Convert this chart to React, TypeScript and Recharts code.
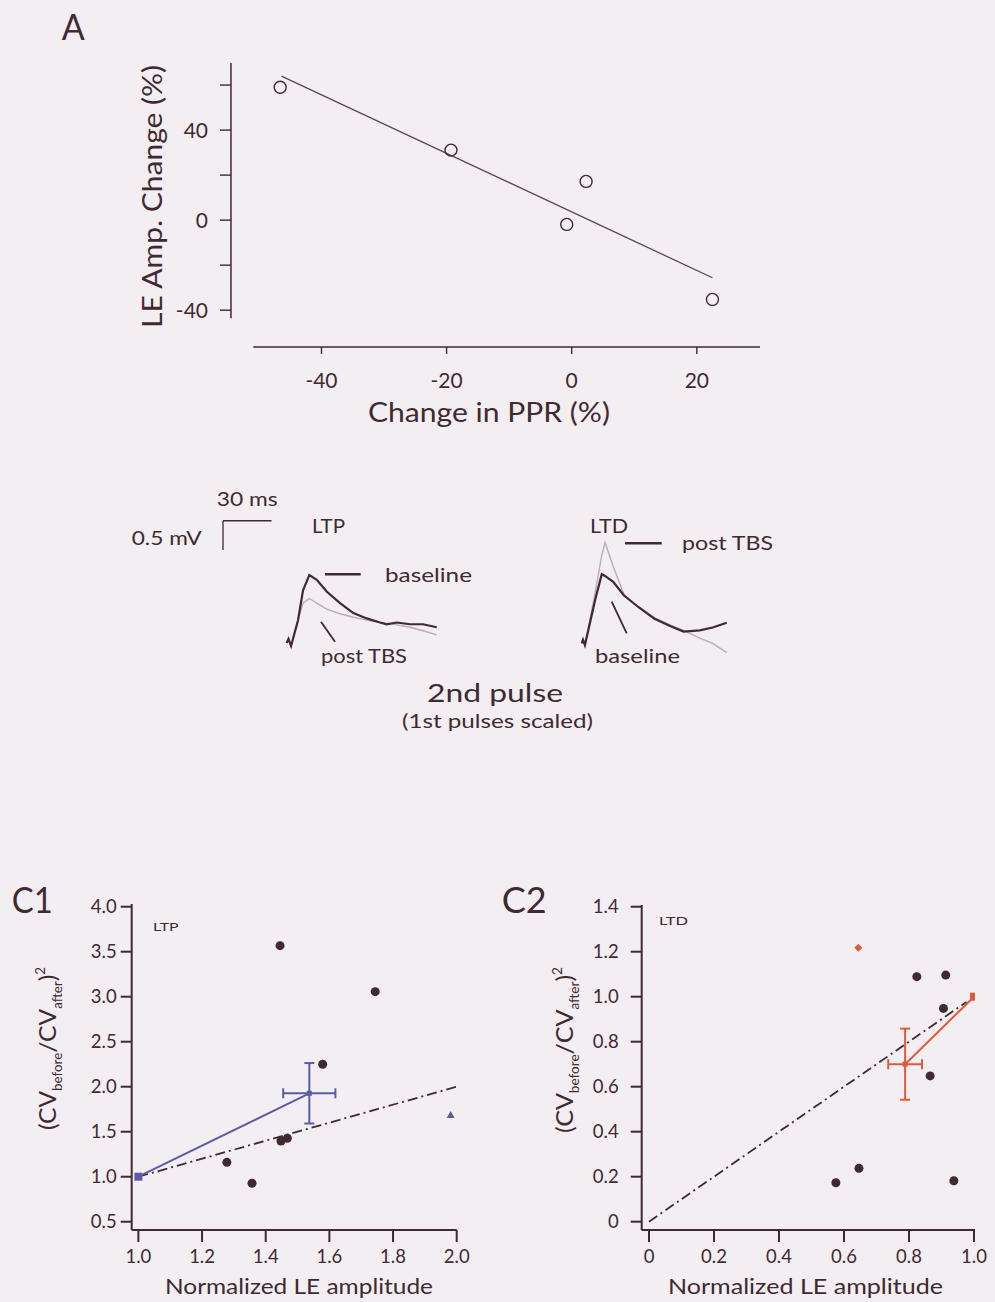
import React from 'react'
import { ScatterChart, Scatter, XAxis, YAxis, ReferenceLine, ErrorBar } from 'recharts'

const INK = '#3e2a30'
const BG = '#f3eef2'
const FONT = 'Lato, "Open Sans", sans-serif'
const BLUE = '#5b5ca6'
const RED = '#e2583c'
const TRACE_LIGHT = '#b9adbb'

// --- A: LE amplitude change vs change in PPR
const pprChange = [-46.6, -19.3, 2.3, -0.8, 22.5]
const leChange = [59.0, 31.1, 17.2, -1.9, -35.2]
const fitPpr = [-46.4, 22.5]
const fitLe = [64.0, -25.6]
const aXTicks = [-40, -20, 0, 20]
const aYTicks = [-40, -20, 0, 20, 40, 60]

// --- B: second pulse traces (ms, mV)
const ltpTime = [0, 1.1, 2.7, 7.0, 10.1, 14.0, 18.6, 24.7, 33.0, 41.2, 49.5, 57.7, 61.8, 68.0, 76.2, 84.3, 92.8]
const ltpBaseline = [0, 0.07, -0.05, 0.39, 0.9, 1.16, 1.08, 0.88, 0.68, 0.51, 0.42, 0.35, 0.32, 0.35, 0.32, 0.32, 0.27]
const ltpPostTbs = [0, 0.07, -0.05, 0.39, 0.68, 0.76, 0.68, 0.58, 0.5, 0.44, 0.39, 0.35, 0.34, 0.31, 0.27, 0.21, 0.14]
const ltdTime = [0, 0.8, 2.0, 8.5, 12.4, 14.4, 19.5, 26, 35, 45, 55, 63, 73, 81, 89.7]
const ltdBaseline = [0, 0.06, -0.03, 0.76, 1.18, 1.15, 1.05, 0.82, 0.62, 0.42, 0.29, 0.2, 0.22, 0.27, 0.35]
const ltdPostTbs = [0, 0.06, -0.03, 0.9, 1.5, 1.72, 1.31, 0.84, 0.61, 0.44, 0.31, 0.22, 0.09, 0.0, -0.16]
const scaleBarMs = 30
const scaleBarMv = 0.5

// --- C1: LTP
const c1Amp = [1.445, 1.744, 1.579, 1.448, 1.468, 1.278, 1.357]
const c1Cv = [3.567, 3.056, 2.249, 1.397, 1.427, 1.16, 0.927]
const c1Mean = [{ x: 1.537, y: 1.927, ex: 0.082, ey: 0.336 }]
const c1Ref = [{ x: 1, y: 1 }]
const c1Outlier = [{ x: 1.981, y: 1.686 }]
const c1Unity = [1, 2]
const c1XTicks = [1.0, 1.2, 1.4, 1.6, 1.8, 2.0]
const c1YTicks = [0.5, 1.0, 1.5, 2.0, 2.5, 3.0, 3.5, 4.0]

// --- C2: LTD
const c2Amp = [0.824, 0.913, 0.906, 0.865, 0.646, 0.575, 0.938]
const c2Cv = [1.089, 1.096, 0.948, 0.648, 0.237, 0.173, 0.182]
const c2Mean = [{ x: 0.788, y: 0.7, ex: 0.052, ey: 0.158 }]
const c2Ref = [{ x: 1, y: 1 }]
const c2Outlier = [{ x: 0.644, y: 1.218 }]
const c2Unity = [0, 0.977]
const c2XTicks = [0, 0.2, 0.4, 0.6, 0.8, 1.0]
const c2YTicks = [0, 0.2, 0.4, 0.6, 0.8, 1.0, 1.2, 1.4]

const pts = (xs: number[], ys: number[]) => xs.map((x, i) => ({ x, y: ys[i] }))

const noShape = () => <g />
const openCircle = (p: any) => <circle cx={p.cx} cy={p.cy} r={6} fill="none" stroke={INK} strokeWidth={1.4} />
const dot = (p: any) => <circle cx={p.cx} cy={p.cy} r={4.5} fill={INK} />
const square = (color: string, s: number) => (p: any) =>
    <rect x={p.cx - s / 2} y={p.cy - s / 2} width={s} height={s} fill={color} />
const triangle = (p: any) =>
    <path d={`M${p.cx},${p.cy - 4} L${p.cx + 4},${p.cy + 3} L${p.cx - 4},${p.cy + 3} Z`} fill={BLUE} />
const diamond = (p: any) =>
    <path d={`M${p.cx},${p.cy - 4} L${p.cx + 4},${p.cy} L${p.cx},${p.cy + 4} L${p.cx - 4},${p.cy} Z`} fill={RED} />

const fmt1 = (v: number) => (v === 0 ? '0' : v.toFixed(1))

// axis geometry of panel A (offset axes)
const A_XDOM: [number, number] = [-50.9, 30.1]
const A_YDOM: [number, number] = [-43.6, 69.8]
const A_YLINE_X = -54.47
const A_XLINE_Y = -56.35

function PanelA() {
    return (
        <ScatterChart width={800} height={410} margin={{ top: 63, right: 40, bottom: 0, left: 0 }}>
            <XAxis type="number" dataKey="x" domain={A_XDOM} padding={{ left: 22.3, right: 0 }}
                ticks={aXTicks} interval={0} allowDataOverflow axisLine={false}
                tickSize={7} tickMargin={19} height={63}
                tickLine={{ stroke: INK, strokeWidth: 1.4 }}
                tick={{ fontSize: 21, fill: INK, fontFamily: FONT }} />
            <YAxis type="number" dataKey="y" domain={A_YDOM} padding={{ top: 0, bottom: 28.7 }}
                ticks={aYTicks} interval={0} allowDataOverflow axisLine={false}
                tickSize={11} tickMargin={12} width={231}
                tickFormatter={(v: number) => (v % 40 === 0 ? String(v) : '')}
                tickLine={{ stroke: INK, strokeWidth: 1.4 }}
                tick={{ fontSize: 21, fill: INK, fontFamily: FONT }} />
            <ReferenceLine ifOverflow="visible" stroke={INK} strokeWidth={1.5}
                segment={[{ x: A_YLINE_X, y: A_YDOM[1] }, { x: A_YLINE_X, y: A_YDOM[0] }]} />
            <ReferenceLine ifOverflow="visible" stroke={INK} strokeWidth={1.5}
                segment={[{ x: A_XDOM[0], y: A_XLINE_Y }, { x: A_XDOM[1], y: A_XLINE_Y }]} />
            <Scatter data={pts(fitPpr, fitLe)} line={{ stroke: '#5a474c', strokeWidth: 1.3 }}
                shape={noShape} isAnimationActive={false} />
            <Scatter data={pts(pprChange, leChange)} shape={openCircle} isAnimationActive={false} />
        </ScatterChart>
    )
}

function Trace({ time, base, post, xDom, yDom, scaleBar }: {
    time: number[]; base: number[]; post: number[]
    xDom: [number, number]; yDom: [number, number]; scaleBar?: { x: number; y: number }
}) {
    return (
        <ScatterChart width={260} height={200} margin={{ top: 0, right: 0, bottom: 0, left: 0 }}>
            <XAxis type="number" dataKey="x" domain={xDom} hide allowDataOverflow />
            <YAxis type="number" dataKey="y" domain={yDom} hide allowDataOverflow />
            {scaleBar && (
                <ReferenceLine ifOverflow="visible" stroke={INK} strokeWidth={1.3}
                    segment={[{ x: scaleBar.x, y: scaleBar.y }, { x: scaleBar.x + scaleBarMs, y: scaleBar.y }]} />
            )}
            {scaleBar && (
                <ReferenceLine ifOverflow="visible" stroke={INK} strokeWidth={1.3}
                    segment={[{ x: scaleBar.x, y: scaleBar.y }, { x: scaleBar.x, y: scaleBar.y - scaleBarMv }]} />
            )}
            <Scatter data={pts(time, post)} line={{ stroke: TRACE_LIGHT, strokeWidth: 1.4 }}
                shape={noShape} isAnimationActive={false} />
            <Scatter data={pts(time, base)} line={{ stroke: INK, strokeWidth: 2.2 }}
                shape={noShape} isAnimationActive={false} />
        </ScatterChart>
    )
}

function PanelC({ width, yWidth, right, top, xDom, yDom, xTicks, yTicks, amp, cv, unity, mean, ref, outlier, color, outlierShape }: any) {
    const axisStyle = { stroke: INK, strokeWidth: 2 }
    return (
        <ScatterChart width={width} height={420} margin={{ top, right, bottom: 0, left: 0 }}>
            <XAxis type="number" dataKey="x" domain={xDom} ticks={xTicks} interval={0} allowDataOverflow
                tickFormatter={fmt1} height={70} tickSize={12} tickMargin={8}
                axisLine={axisStyle} tickLine={axisStyle}
                tick={{ fontSize: 18.5, fill: INK, fontFamily: FONT }} />
            <YAxis type="number" dataKey="y" domain={yDom} ticks={yTicks} interval={0} allowDataOverflow
                tickFormatter={fmt1} width={yWidth} tickSize={11} tickMargin={yWidth > 140 ? 12 : 4}
                axisLine={axisStyle} tickLine={axisStyle}
                tick={{ fontSize: 18.5, fill: INK, fontFamily: FONT }} />
            <Scatter data={pts(unity, unity)} line={{ stroke: INK, strokeWidth: 1.8, strokeDasharray: '10 4 2 4' }}
                shape={noShape} isAnimationActive={false} />
            <Scatter data={pts(amp, cv)} shape={dot} isAnimationActive={false} />
            <Scatter data={[...ref, ...mean]} line={{ stroke: color, strokeWidth: 2 }}
                shape={noShape} isAnimationActive={false} />
            <Scatter data={mean} shape={square(color, 5)} isAnimationActive={false}>
                <ErrorBar dataKey="ex" direction="x" width={5} stroke={color} strokeWidth={2} />
                <ErrorBar dataKey="ey" direction="y" width={5} stroke={color} strokeWidth={2} />
            </Scatter>
            <Scatter data={ref} shape={square(color, 8)} isAnimationActive={false} />
            <Scatter data={outlier} shape={outlierShape} isAnimationActive={false} />
        </ScatterChart>
    )
}

// text stretched to the width it has in the scan
function T({ x, y, w, size, children, rotate }: { x: number; y: number; w: number; size: number; children: React.ReactNode; rotate?: boolean }) {
    return (
        <text transform={rotate ? `translate(${x},${y}) rotate(-90)` : undefined}
            x={rotate ? 0 : x} y={rotate ? 0 : y} fontSize={size}
            textLength={w} lengthAdjust="spacingAndGlyphs">{children}</text>
    )
}

function CvLabel({ x, y, w }: { x: number; y: number; w: number }) {
    return (
        <T x={x} y={y} w={w} size={24} rotate>
            <tspan>(CV</tspan>
            <tspan fontSize={13} dy={6}>before</tspan>
            <tspan dy={-6}>/CV</tspan>
            <tspan fontSize={13} dy={6}>after</tspan>
            <tspan dy={-6}>)</tspan>
            <tspan fontSize={13} dy={-11}>2</tspan>
        </T>
    )
}

export default function App() {
    const abs = (left: number, top: number) => ({ position: 'absolute' as const, left, top })
    return (
        <div style={{ position: 'absolute', left: 0, top: 0, width: 995, height: 1302, background: BG, overflow: 'hidden', fontFamily: FONT }}>
            <div style={abs(0, 0)}><PanelA /></div>
            <div style={abs(200, 480)}>
                <Trace time={ltpTime} base={ltpBaseline} post={ltpPostTbs}
                    xDom={[-53.62, 107.17]} yDom={[-0.631, 2.782]} scaleBar={{ x: -39.39, y: 2.087 }} />
            </div>
            <div style={abs(520, 480)}>
                <Trace time={ltdTime} base={ltdBaseline} post={ltdPostTbs}
                    xDom={[-38.16, 122.63]} yDom={[-0.626, 2.787]} />
            </div>
            <div style={abs(0, 880)}>
                <PanelC width={480} yWidth={131.7} right={23.3} top={24}
                    xDom={[0.979, 2.0]} yDom={[0.408, 4.03]} xTicks={c1XTicks} yTicks={c1YTicks}
                    amp={c1Amp} cv={c1Cv} unity={c1Unity} mean={c1Mean} ref={c1Ref}
                    outlier={c1Outlier} color={BLUE} outlierShape={triangle} />
            </div>
            <div style={abs(500, 880)}>
                <PanelC width={490} yWidth={141.7} right={15} top={25}
                    xDom={[-0.0225, 1.003]} yDom={[-0.037, 1.4076]} xTicks={c2XTicks} yTicks={c2YTicks}
                    amp={c2Amp} cv={c2Cv} unity={c2Unity} mean={c2Mean} ref={c2Ref}
                    outlier={c2Outlier} color={RED} outlierShape={diamond} />
            </div>
            <svg width={995} height={1302} style={{ position: 'absolute', left: 0, top: 0, pointerEvents: 'none' }}
                fontFamily={FONT} fill={INK}>
                <T x={61.7} y={40} w={23} size={37}>A</T>
                <T x={162} y={328} w={263} size={26} rotate>LE Amp. Change (%)</T>
                <T x={368} y={422} w={242} size={26}>Change in PPR (%)</T>

                <T x={216.7} y={506} w={61} size={19}>30 ms</T>
                <T x={131.7} y={545} w={70} size={19}>0.5 mV</T>
                <T x={312} y={533} w={33} size={20}>LTP</T>
                <line x1={325} y1={574.3} x2={360.7} y2={574.3} stroke={INK} strokeWidth={2.4} />
                <T x={385} y={581.5} w={87} size={20}>baseline</T>
                <line x1={321} y1={621.7} x2={335} y2={641.7} stroke={INK} strokeWidth={1.8} />
                <T x={321} y={663} w={86} size={20}>post TBS</T>
                <T x={590} y={533} w={38} size={20}>LTD</T>
                <line x1={625} y1={543.3} x2={661.7} y2={543.3} stroke={INK} strokeWidth={2.4} />
                <T x={682} y={550} w={91} size={20}>post TBS</T>
                <line x1={611.7} y1={601.7} x2={626.7} y2={633.3} stroke={INK} strokeWidth={1.8} />
                <T x={595} y={662.7} w={85} size={20}>baseline</T>
                <T x={427} y={701.5} w={136} size={25}>2nd pulse</T>
                <T x={402} y={727.5} w={191} size={19.5}>(1st pulses scaled)</T>

                <T x={11.7} y={913} w={41} size={36}>C1</T>
                <T x={153} y={931} w={25.6} size={11}>LTP</T>
                <CvLabel x={56} y={1130} w={163} />
                <T x={165} y={1294} w={268} size={22}>Normalized LE amplitude</T>

                <T x={501.7} y={913} w={45} size={36}>C2</T>
                <T x={659} y={925} w={29} size={11}>LTD</T>
                <CvLabel x={573} y={1133} w={166} />
                <T x={668} y={1294} w={275} size={22}>Normalized LE amplitude</T>
            </svg>
        </div>
    )
}
